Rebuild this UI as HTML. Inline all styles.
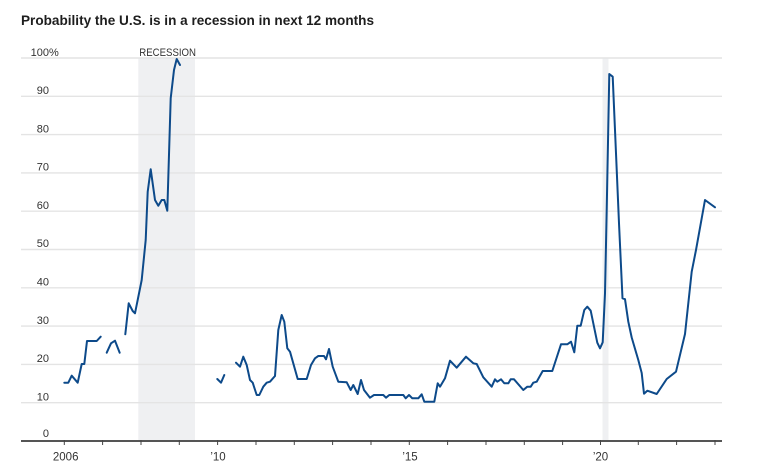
<!DOCTYPE html>
<html>
<head>
<meta charset="utf-8">
<style>
html,body{margin:0;padding:0;background:#fff;}
svg{display:block;}
</style>
</head>
<body>
<svg width="761" height="467" viewBox="0 0 761 467" xmlns="http://www.w3.org/2000/svg" font-family="'Liberation Sans', sans-serif">
  <rect width="761" height="467" fill="#fff"/>
  <!-- title -->
  <text x="21" y="25" font-size="14" font-weight="bold" fill="#1e1e1e" textLength="353" lengthAdjust="spacingAndGlyphs">Probability the U.S. is in a recession in next 12 months</text>

  <!-- recession shading -->
  <rect x="138.3" y="58" width="56.7" height="383" fill="#eff0f2"/>
  <rect x="602.5" y="58" width="6" height="383" fill="#eff0f2"/>

  <!-- gridlines -->
  <g stroke="#e4e4e4" stroke-width="1.4">
    <line x1="21" x2="722" y1="58" y2="58"/>
    <line x1="21" x2="722" y1="96.3" y2="96.3"/>
    <line x1="21" x2="722" y1="134.6" y2="134.6"/>
    <line x1="21" x2="722" y1="172.9" y2="172.9"/>
    <line x1="21" x2="722" y1="211.2" y2="211.2"/>
    <line x1="21" x2="722" y1="249.5" y2="249.5"/>
    <line x1="21" x2="722" y1="287.8" y2="287.8"/>
    <line x1="21" x2="722" y1="326.1" y2="326.1"/>
    <line x1="21" x2="722" y1="364.4" y2="364.4"/>
    <line x1="21" x2="722" y1="402.7" y2="402.7"/>
  </g>

  <!-- y labels -->
  <g font-size="11" fill="#333" text-anchor="end">
    <text x="49" y="56">100</text>
    <text x="49" y="94">90</text>
    <text x="49" y="132.3">80</text>
    <text x="49" y="170.6">70</text>
    <text x="49" y="208.9">60</text>
    <text x="49" y="247.2">50</text>
    <text x="49" y="285.5">40</text>
    <text x="49" y="323.8">30</text>
    <text x="49" y="362.1">20</text>
    <text x="49" y="400.4">10</text>
    <text x="49" y="437">0</text>
  </g>
  <text x="49" y="56" font-size="11" fill="#333">%</text>
  <text x="139.3" y="56" font-size="11" fill="#333" textLength="56.7" lengthAdjust="spacingAndGlyphs">RECESSION</text>

  <!-- axis -->
  <line x1="21" x2="722" y1="441" y2="441" stroke="#555" stroke-width="2"/>
  <g stroke="#444" stroke-width="1">
    <line x1="64.3" x2="64.3" y1="440" y2="445"/>
    <line x1="102.6" x2="102.6" y1="440" y2="445"/>
    <line x1="141" x2="141" y1="440" y2="445"/>
    <line x1="179.3" x2="179.3" y1="440" y2="445"/>
    <line x1="217.6" x2="217.6" y1="440" y2="445"/>
    <line x1="256" x2="256" y1="440" y2="445"/>
    <line x1="294.3" x2="294.3" y1="440" y2="445"/>
    <line x1="332.6" x2="332.6" y1="440" y2="445"/>
    <line x1="371" x2="371" y1="440" y2="445"/>
    <line x1="409.3" x2="409.3" y1="440" y2="445"/>
    <line x1="447.6" x2="447.6" y1="440" y2="445"/>
    <line x1="486" x2="486" y1="440" y2="445"/>
    <line x1="524.3" x2="524.3" y1="440" y2="445"/>
    <line x1="562.6" x2="562.6" y1="440" y2="445"/>
    <line x1="600.5" x2="600.5" y1="440" y2="445"/>
    <line x1="638.3" x2="638.3" y1="440" y2="445"/>
    <line x1="676.6" x2="676.6" y1="440" y2="445"/>
    <line x1="715" x2="715" y1="440" y2="445"/>
  </g>
  <g font-size="11.5" fill="#333" text-anchor="middle">
    <text x="65.7" y="460.5">2006</text>
    <text x="218" y="460.5">’10</text>
    <text x="410" y="460.5">’15</text>
    <text x="600.5" y="460.5">’20</text>
  </g>

  <!-- data -->
  <g fill="none" stroke="#0d4a8a" stroke-width="2" stroke-linejoin="round" stroke-linecap="round">
    <polyline points="64.3,382.7 68.3,382.7 71.7,375.7 77.7,382.7 81.7,364 84.3,364 87,341 96.7,341 100.7,336.7"/>
    <polyline points="106.7,352.7 111,343.3 115,340.7 119.7,352.7"/>
    <polyline points="125.3,334.3 128.7,303.3 132.7,311 135,313.3 141.7,280 145.7,240 147.7,191.7 150.7,169.3 155,200 158.3,205.7 161.7,200 164.3,200 167.3,210.7 170.7,98.3 174,70 176.7,59 180,65"/>
    <polyline points="217.3,379 221,382.7 224.3,375"/>
    <polyline points="236,362.7 240,366.7 243.3,356.7 246.7,365 250,380 252.7,382.7 256.7,395 259.3,395 263.3,386.7 266.7,382.7 270,381.7 275,376 278.3,330 281.7,315 284.3,321.7 287.3,348.3 290,351.7 297.7,379 306.7,379 311,365 315,358.3 318.3,356 324,356 326,359.3 329,349 332.7,366.7 338.3,381.7 346.7,382.3 350.7,390 353.3,385 357.7,394 361,380 364,390 370,397.7 374,395 383.3,395 386,397.7 389.3,395 400,395 403.3,395 405.7,398.3 409,395 412.3,398.3 418.3,398.3 421.7,394.3 424.3,401.7 434.3,401.7 437.7,383.3 440,386.7 445,378.3 450,360.7 456.7,367.7 466,356.7 473.3,363.3 476.7,364 483.3,377.3 491.7,386.7 495,379.3 497.3,381.7 501,379.3 504.3,383.3 508.3,383.3 510.7,379.3 514,379.3 523.3,390 527.3,386.7 530.7,386.7 533.3,382.7 536.7,381.7 542.7,371 552.3,371 561,344.3 567.3,344.3 571,341.7 574.3,352.3 577.3,325.7 580.7,325.7 584.3,310 587.3,306.7 590.7,310.7 594,326.7 597.3,342.7 600,348.3 602.7,342.3 605,293.3 606.7,210 609.3,74 612.7,76.7 616,153.3 619,223.3 622.5,298.3 625,299.2 628.3,321.7 631.7,337.5 638.3,360 641.7,373 644,393.7 647.3,390.7 656.7,394 666.7,379 676,371.7 685,334 691.7,271.7 696,250 705,200 715,207.3"/>
  </g>
</svg>
</body>
</html>
